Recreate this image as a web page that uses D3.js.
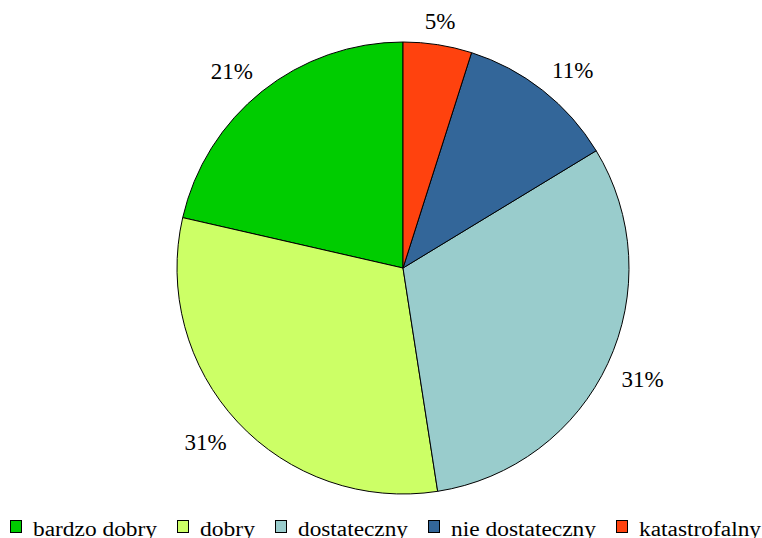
<!DOCTYPE html>
<html>
<head>
<meta charset="utf-8">
<script src="https://cdn.jsdelivr.net/npm/d3@7"></script>
<style>
  html, body { margin: 0; padding: 0; background: #fff; }
  svg { display: block; }
  text { font-family: "Liberation Serif", "Times New Roman", Times, serif; }
</style>
</head>
<body>
<svg id="chart" width="762" height="538"></svg>
<script>
// ---- data ----
const categories = ["bardzo dobry", "dobry", "dostateczny", "nie dostateczny", "katastrofalny"];
const values = [21.4, 31.0, 31.2, 11.4, 4.9];
const colors = ["#00CC00", "#CCFF66", "#99CCCC", "#336699", "#FF420E"];

// ---- layout ----
const cx = 403, cy = 268, radius = 226;
const labelFont = 23;
const legendFont = 20;

const svg = d3.select("#chart");
const total = d3.sum(values);
const fmt = d3.format(".0%");
const color = d3.scaleOrdinal().domain(categories).range(colors);

const data = categories.map((c, i) => ({ cat: c, value: values[i] }));
const pie = d3.pie().value(d => d.value).sort(null).startAngle(2 * Math.PI).endAngle(0);
const arcs = pie(data);
const arc = d3.arc().innerRadius(0).outerRadius(radius);

const g = svg.append("g").attr("transform", `translate(${cx},${cy})`);

g.selectAll("path.slice")
  .data(arcs)
  .enter().append("path")
  .attr("class", "slice")
  .attr("d", arc)
  .attr("fill", d => color(d.data.cat))
  .attr("stroke", "#000")
  .attr("stroke-width", 1)
  .attr("stroke-linejoin", "round");

// labels: anchor point just outside the rim, text box aligned away from the pie
const labelR = radius + 15;
const side = s => (Math.abs(s) < 0.2 ? 0 : Math.sign(s));
g.selectAll("text.lbl")
  .data(arcs)
  .enter().append("text")
  .attr("class", "lbl")
  .attr("font-size", labelFont)
  .attr("fill", "#000")
  .attr("text-anchor", "middle")
  .text(d => fmt(d.data.value / total))
  .each(function(d) {
    const a = (d.startAngle + d.endAngle) / 2;
    const sx = Math.sin(a), sy = -Math.cos(a);
    const w = this.getComputedTextLength();
    const h = 18;
    const x = sx * labelR + side(sx) * w / 2;
    const y = sy * labelR + side(sy) * h / 2;
    d3.select(this).attr("x", x).attr("y", y + labelFont * 0.36);
  });

// legend
const legendWidths = [124, 55, 110, 145, 122];
const legend = svg.append("g").attr("class", "legend");
let lx = 10;
const sq = 12, baseY = 536;
categories.forEach((c, i) => {
  legend.append("rect")
    .attr("x", lx + 0.5).attr("y", 520.5)
    .attr("width", sq - 1).attr("height", sq)
    .attr("fill", color(c))
    .attr("stroke", "#000").attr("stroke-width", 1);
  legend.append("text")
    .attr("class", "leg")
    .attr("font-size", legendFont)
    .attr("fill", "#000")
    .attr("x", lx + sq + 11).attr("y", baseY)
    .attr("textLength", legendWidths[i])
    .attr("lengthAdjust", "spacingAndGlyphs")
    .text(c);
  lx += sq + 11 + legendWidths[i] + 20;
});
</script>
</body>
</html>
